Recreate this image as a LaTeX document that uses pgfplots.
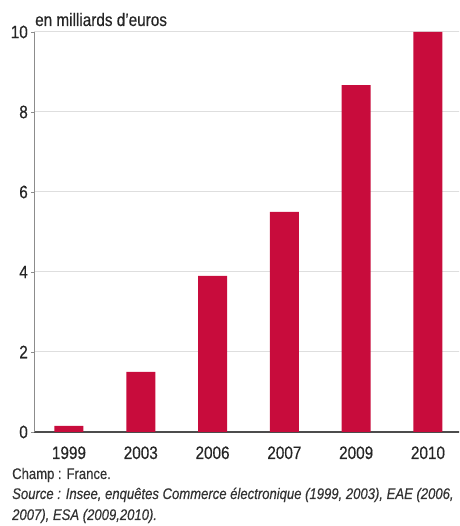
\documentclass[border=0pt]{standalone}
\usepackage{pgfplots}
\pgfplotsset{compat=1.18}
\usepackage{fontspec}
\setmainfont{Liberation Sans}[FakeStretch=0.85, FakeBold=0.4]
\definecolor{barred}{RGB}{200,12,60}
\definecolor{gridgray}{RGB}{222,222,222}

\begin{document}
\begin{tikzpicture}
\useasboundingbox (0,0) rectangle (459pt,526pt);
\clip (0,0) rectangle (459pt,526pt);
\begin{axis}[
    at={(34pt,94pt)}, anchor=south west,
    x=71.8pt, y=40pt,
    xmin=-0.487, xmax=5.8,
    ymin=0, ymax=10,
    enlargelimits=false,
    axis x line*=bottom,
    axis y line*=left,
    x axis line style={-, draw=black!70, line width=1.2pt},
    y axis line style={-, draw=black!45, line width=0.8pt},
    ymajorgrids=true,
    grid style={gridgray, line width=1pt},
    xtick=data,
    xticklabels={1999,2003,2006,2007,2009,2010},
    xtick style={draw=none},
    ytick={0,2,4,6,8,10},
    ytick style={draw=black!45, line width=0.8pt},
    tick align=outside,
    major tick length=3pt,
    /pgf/number format/assume math mode=true,
    ticklabel style={font=\fontsize{18}{20}\selectfont, text=black!85},
    xticklabel style={anchor=base, yshift=-24pt},
    yticklabel style={anchor=east, inner sep=0pt, xshift=-3pt},
]
% Commerce electronique, en milliards d'euros
\addplot[ybar, bar width=29pt, fill=barred, draw=none]
    coordinates {
    (0,0.15)(1,1.5)(2,3.9)(3,5.5)(4,8.67)(5,10.0)
    };
\end{axis}
\node[anchor=base west, inner sep=0pt, font=\fontsize{18}{20}\selectfont, text=black!85]
    at (35pt,500pt) {en milliards d’euros};
\node[anchor=base west, inner sep=0pt, font=\fontsize{15.4}{17}\selectfont, text=black!80]
    at (12pt,47pt) {Champ : France.};
\node[anchor=base west, inner sep=0pt, font=\fontsize{15.4}{17}\selectfont\itshape, text=black!80]
    at (12pt,27pt) {Source : Insee, enquêtes Commerce électronique (1999, 2003), EAE (2006,};
\node[anchor=base west, inner sep=0pt, font=\fontsize{15.4}{17}\selectfont\itshape, text=black!80]
    at (12pt,6pt) {2007), ESA (2009,2010).};
\end{tikzpicture}
\end{document}
